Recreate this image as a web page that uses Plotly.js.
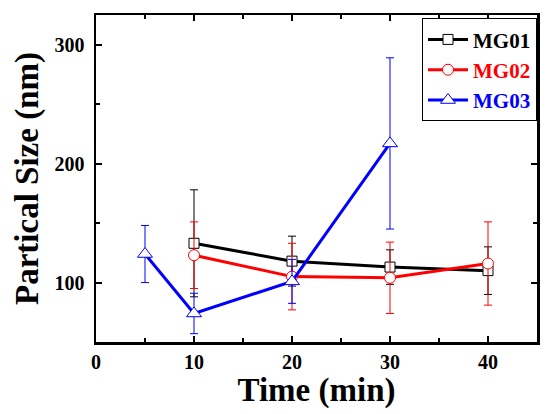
<!DOCTYPE html>
<html>
<head>
<meta charset="utf-8">
<script src="https://cdn.plot.ly/plotly-3.0.1.min.js"></script>
<style>html,body{margin:0;padding:0;background:#fff;}#chart{width:550px;height:414px;}</style>
</head>
<body>
<div id="chart"></div>
<script>
// Data
const timeA = [10, 20, 30, 40];
const mg01 = [133, 118, 113, 110];
const mg01Err = [45, 21, 14.5, 20];
const mg02 = [123, 105, 104, 116];
const mg02Err = [28, 28, 30, 35];
const timeB = [5, 10, 20, 30];
const mg03 = [124, 74, 101, 217];
const mg03Err = [24, 17, 18.5, 72];
const seriesNames = ['MG01', 'MG02', 'MG03'];
const xTickVals = [0, 10, 20, 30, 40];
const yTickVals = [100, 200, 300];

const font = 'Liberation Serif, Times New Roman, serif';

function trace(x, y, err, name, color, symbol, size) {
  return {
    x: x, y: y, type: 'scatter', mode: 'lines+markers',
    name: '<b><span style="color:' + color + '">' + name + '</span></b>',
    line: {color: color, width: 3},
    marker: {symbol: symbol, size: size, color: '#ffffff', line: {color: color, width: 1}},
    error_y: {type: 'data', array: err, visible: true, color: color, thickness: 1, width: 4}
  };
}

const data = [
  trace(timeA, mg01, mg01Err, seriesNames[0], '#000000', 'square', 10),
  trace(timeA, mg02, mg02Err, seriesNames[1], '#ff0000', 'circle', 11),
  trace(timeB, mg03, mg03Err, seriesNames[2], '#0000ff', 'triangle-up', 13)
];

const axisCommon = {
  showgrid: false, zeroline: false, showline: true, linecolor: '#000', linewidth: 2.5,
  mirror: 'ticks', ticks: 'inside', ticklen: 6, tickwidth: 2, tickcolor: '#000',
  tickfont: {family: font, size: 20, color: '#000', weight: 'bold'}
};

const layout = {
  width: 550, height: 414,
  margin: {l: 96, r: 13, t: 15, b: 72},
  paper_bgcolor: '#fff', plot_bgcolor: '#fff',
  showlegend: true,
  legend: {
    x: 1, xanchor: 'right', y: 0.99, yanchor: 'top',
    bgcolor: '#fff', bordercolor: '#000', borderwidth: 1,
    font: {family: font, size: 21, color: '#000'},
    tracegroupgap: 0, itemwidth: 40
  },
  xaxis: Object.assign({}, axisCommon, {
    range: [0, 45], tickmode: 'array', tickvals: xTickVals,
    ticktext: xTickVals.map(String),
    minor: {dtick: 5, ticks: 'inside', ticklen: 4, tickwidth: 2, tickcolor: '#000'},
    title: {text: '<b>Time (min)</b>', font: {family: font, size: 33, color: '#000'}, standoff: 4}
  }),
  yaxis: Object.assign({}, axisCommon, {
    range: [50, 325], tickmode: 'array', tickvals: yTickVals,
    ticktext: yTickVals.map(String),
    ticklabelstandoff: 5,
    minor: {dtick: 50, ticks: 'inside', ticklen: 4, tickwidth: 2, tickcolor: '#000'},
    title: {text: '<b>Partical Size (nm)</b>', font: {family: font, size: 33, color: '#000'}, standoff: 6}
  })
};

Plotly.newPlot('chart', data, layout, {displayModeBar: false, staticPlot: true});
</script>
</body>
</html>
